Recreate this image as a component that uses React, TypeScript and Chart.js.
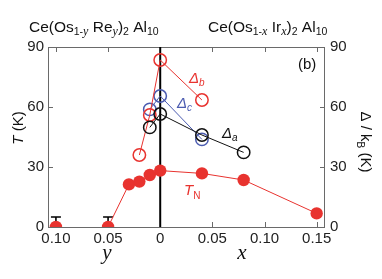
import React, { useEffect, useRef } from "react";
import { Chart, registerables } from "chart.js";

Chart.register(...registerables);

// composition axis: negative = y (Re side), positive = x (Ir side)
const TN_U = [-0.05, -0.03, -0.02, -0.01, 0, 0.04, 0.08, 0.15];
const TN_VAL = [0, 21.3, 22.7, 26, 28.2, 26.8, 23.5, 6.8];
const TN_LONE_U = [-0.1];
const TN_LONE_VAL = [0];
const LIMIT_U = [-0.1, -0.05];
const LIMIT_TOP = [5, 5];
const DB_U = [-0.02, -0.01, 0, 0.04];
const DB_VAL = [36, 56, 83.5, 63.5];
const DC_U = [-0.01, 0, 0.04];
const DC_VAL = [58.8, 65.5, 43.8];
const DA_U = [-0.01, 0, 0.04, 0.08];
const DA_VAL = [49.8, 56.5, 46, 37.3];
const X_TICKS = [-0.1, -0.05, 0, 0.05, 0.1, 0.15];
const Y_TICKS = [0, 30, 60, 90];

const RED = "#e8332f";
const BLUE = "#4b5bb0";
const BLACK = "#111111";
const SANS = '"Liberation Sans", Arial, sans-serif';
const SERIF = '"Liberation Serif", "Times New Roman", serif';

type Run = { t: string; f: string; dy?: number; c?: string };

function runsWidth(ctx: CanvasRenderingContext2D, runs: Run[]) {
  let w = 0;
  for (const r of runs) {
    ctx.font = r.f;
    w += ctx.measureText(r.t).width;
  }
  return w;
}

function drawRuns(ctx: CanvasRenderingContext2D, runs: Run[], x: number, y: number, color: string) {
  let cx = x;
  ctx.textBaseline = "alphabetic";
  ctx.textAlign = "left";
  for (const r of runs) {
    ctx.font = r.f;
    ctx.fillStyle = r.c || color;
    ctx.fillText(r.t, cx, y + (r.dy || 0));
    cx += ctx.measureText(r.t).width;
  }
}

const zip = (u: number[], v: number[]) => u.map((x, i) => ({ x, y: v[i] }));

const decorPlugin = {
  id: "decor",
  beforeDatasetsDraw(chart: any) {
    const { ctx, chartArea: a, scales } = chart;
    const xs = scales.x;
    const ys = scales.y;
    ctx.save();
    // frame
    ctx.strokeStyle = "#6a6a6a";
    ctx.lineWidth = 1;
    ctx.strokeRect(a.left + 0.5, a.top + 0.5, a.right - a.left - 1, a.bottom - a.top);
    // inward ticks
    ctx.beginPath();
    for (const v of X_TICKS) {
      const px = Math.round(xs.getPixelForValue(v)) + 0.5;
      ctx.moveTo(px, a.top);
      ctx.lineTo(px, a.top + 5);
      ctx.moveTo(px, a.bottom);
      ctx.lineTo(px, a.bottom - 5);
    }
    for (const v of Y_TICKS) {
      const py = Math.round(ys.getPixelForValue(v)) + 0.5;
      ctx.moveTo(a.left, py);
      ctx.lineTo(a.left + 5, py);
      ctx.moveTo(a.right, py);
      ctx.lineTo(a.right - 5, py);
    }
    ctx.stroke();
    // zero line
    const zx = xs.getPixelForValue(0);
    ctx.strokeStyle = "#000";
    ctx.lineWidth = 2;
    ctx.beginPath();
    ctx.moveTo(zx, a.top);
    ctx.lineTo(zx, a.bottom);
    ctx.stroke();
    // upper-limit bars
    ctx.strokeStyle = "#000";
    ctx.lineWidth = 1.6;
    LIMIT_U.forEach((u, i) => {
      const px = xs.getPixelForValue(u);
      const top = ys.getPixelForValue(LIMIT_TOP[i]);
      const bot = ys.getPixelForValue(0);
      ctx.beginPath();
      ctx.moveTo(px, bot);
      ctx.lineTo(px, top);
      ctx.moveTo(px - 5, top);
      ctx.lineTo(px + 5, top);
      ctx.stroke();
    });
    ctx.restore();
  },
  afterDraw(chart: any) {
    const { ctx } = chart;
    ctx.save();
    const main = `15.5px ${SANS}`;
    const sub = `10.5px ${SANS}`;
    const subI = `italic 12px ${SERIF}`;
    // titles
    drawRuns(
      ctx,
      [
        { t: "Ce(Os", f: main },
        { t: "1-", f: sub, dy: 3 },
        { t: "y", f: subI, dy: 3 },
        { t: " Re", f: main },
        { t: "y", f: subI, dy: 3 },
        { t: ")", f: main },
        { t: "2", f: sub, dy: 3 },
        { t: " Al", f: main },
        { t: "10", f: sub, dy: 3 },
      ],
      29,
      32,
      "#111"
    );
    drawRuns(
      ctx,
      [
        { t: "Ce(Os", f: main },
        { t: "1-", f: sub, dy: 3 },
        { t: "x", f: subI, dy: 3 },
        { t: " Ir", f: main },
        { t: "x", f: subI, dy: 3 },
        { t: ")", f: main },
        { t: "2", f: sub, dy: 3 },
        { t: " Al", f: main },
        { t: "10", f: sub, dy: 3 },
      ],
      208,
      32,
      "#111"
    );
    // (b)
    drawRuns(ctx, [{ t: "(b)", f: `15px ${SANS}` }], 298, 69, "#111");
    // delta labels
    const dF = `italic 15px ${SANS}`;
    const dS = `italic 10px ${SANS}`;
    drawRuns(ctx, [{ t: "Δ", f: dF }, { t: "b", f: dS, dy: 3 }], 189, 83, RED);
    drawRuns(ctx, [{ t: "Δ", f: dF }, { t: "c", f: dS, dy: 3 }], 177, 108, BLUE);
    drawRuns(ctx, [{ t: "Δ", f: dF }, { t: "a", f: dS, dy: 3 }], 222, 138, BLACK);
    drawRuns(ctx, [{ t: "T", f: dF }, { t: "N", f: `10px ${SANS}`, dy: 4 }], 184, 195, RED);
    // x-axis titles
    ctx.font = `italic 21px ${SERIF}`;
    ctx.fillStyle = "#111";
    ctx.textAlign = "center";
    ctx.textBaseline = "alphabetic";
    ctx.fillText("y", 107, 259);
    ctx.fillText("x", 242, 259);
    // left y title
    const lRuns: Run[] = [
      { t: "T", f: `italic 15px ${SANS}` },
      { t: " (K)", f: `15px ${SANS}` },
    ];
    ctx.save();
    ctx.translate(23, 128);
    ctx.rotate(-Math.PI / 2);
    drawRuns(ctx, lRuns, -runsWidth(ctx, lRuns) / 2, 0, "#111");
    ctx.restore();
    // right y title
    const rRuns: Run[] = [
      { t: "Δ / k", f: `15px ${SANS}` },
      { t: "B", f: `10px ${SANS}`, dy: 4 },
      { t: " (K)", f: `15px ${SANS}` },
    ];
    ctx.save();
    ctx.translate(361, 142);
    ctx.rotate(Math.PI / 2);
    drawRuns(ctx, rRuns, -runsWidth(ctx, rRuns) / 2, 0, "#111");
    ctx.restore();
    ctx.restore();
  },
};

export default function App() {
  const ref = useRef<HTMLCanvasElement | null>(null);
  useEffect(() => {
    document.body.style.margin = "0";
    const canvas = ref.current;
    if (!canvas) return;
    const tickFont = { family: SANS, size: 15 };
    const openPt = (color: string) => ({
      borderColor: color,
      backgroundColor: "rgba(0,0,0,0)",
      pointBorderColor: color,
      pointBackgroundColor: "rgba(0,0,0,0)",
      pointRadius: 6.2,
      pointBorderWidth: 1.5,
      borderWidth: 1,
      showLine: true,
    });
    const chart = new Chart(canvas, {
      type: "scatter",
      data: {
        datasets: [
          {
            label: "TN",
            data: zip(TN_U, TN_VAL),
            borderColor: RED,
            backgroundColor: RED,
            pointBackgroundColor: RED,
            pointBorderColor: RED,
            pointRadius: 6.2,
            pointBorderWidth: 0,
            borderWidth: 1,
            showLine: true,
          },
          {
            label: "TN lone",
            data: zip(TN_LONE_U, TN_LONE_VAL),
            backgroundColor: RED,
            pointBackgroundColor: RED,
            pointBorderColor: RED,
            pointRadius: 6.2,
            pointBorderWidth: 0,
            showLine: false,
          },
          { label: "Δa", data: zip(DA_U, DA_VAL), ...openPt(BLACK) },
          { label: "Δb", data: zip(DB_U, DB_VAL), ...openPt(RED) },
          { label: "Δc", data: zip(DC_U, DC_VAL), ...openPt(BLUE) },
        ] as any,
      },
      options: {
        responsive: false,
        animation: false,
        layout: { padding: { top: 47, left: 0, right: 0, bottom: 0 } },
        plugins: { legend: { display: false }, tooltip: { enabled: false } },
        scales: {
          x: {
            type: "linear",
            min: -0.1076,
            max: 0.158,
            afterBuildTicks: (s: any) => {
              s.ticks = X_TICKS.map((v) => ({ value: v }));
            },
            afterFit: (s: any) => {
              s.height = 52;
            },
            ticks: {
              autoSkip: false,
              maxRotation: 0,
              padding: 3,
              color: "#222",
              font: tickFont,
              callback: (v: any) => (Number(v) === 0 ? "0" : Math.abs(Number(v)).toFixed(2)),
            },
            grid: { display: false, drawTicks: false },
            border: { display: false },
          },
          y: {
            type: "linear",
            position: "left",
            min: 0,
            max: 90,
            afterBuildTicks: (s: any) => {
              s.ticks = Y_TICKS.map((v) => ({ value: v }));
            },
            afterFit: (s: any) => {
              s.width = 48;
            },
            ticks: { padding: 4, color: "#222", font: tickFont },
            grid: { display: false, drawTicks: false },
            border: { display: false },
          },
          y2: {
            type: "linear",
            position: "right",
            min: 0,
            max: 90,
            afterBuildTicks: (s: any) => {
              s.ticks = Y_TICKS.map((v) => ({ value: v }));
            },
            afterFit: (s: any) => {
              s.width = 57;
            },
            ticks: { padding: 5, color: "#222", font: tickFont },
            grid: { display: false, drawTicks: false },
            border: { display: false },
          },
        },
      } as any,
      plugins: [decorPlugin],
    });
    return () => chart.destroy();
  }, []);
  return (
    <div style={{ position: "absolute", left: 0, top: 0, width: 382, height: 279, background: "#fff" }}>
      <canvas ref={ref} width={382} height={279} style={{ display: "block" }} />
    </div>
  );
}
